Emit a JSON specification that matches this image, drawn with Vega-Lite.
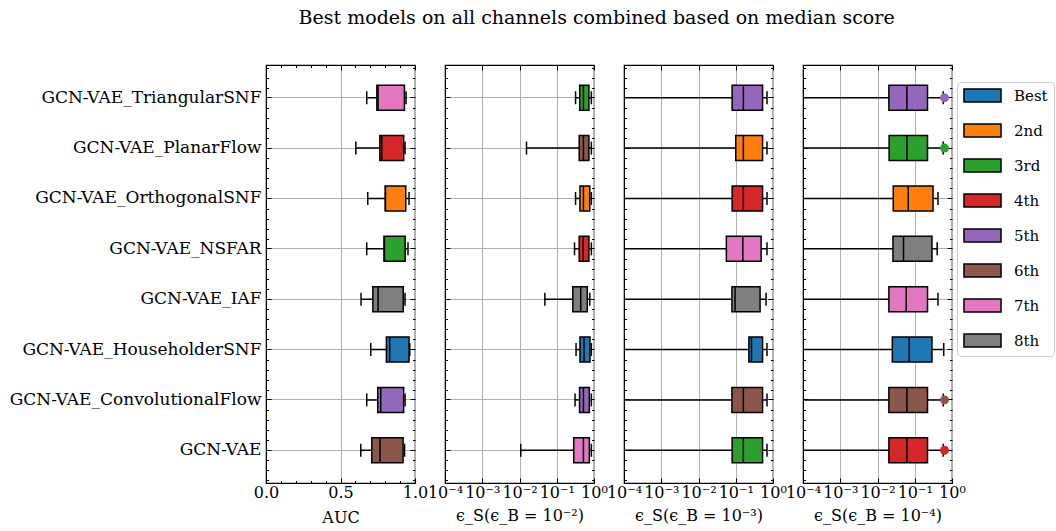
{
  "$schema": "https://vega.github.io/schema/vega-lite/v6.json",
  "background": "white",
  "padding": {"left": 8, "top": 8, "right": 3, "bottom": 5},
  "bounds": "flush",
  "spacing": 30,
  "title": {"text": "Best models on all channels combined based on median score", "fontSize": 19, "font": "DejaVu Serif", "fontWeight": "normal", "anchor": "middle", "offset": 36, "color": "black", "dx": 65},
  "data": {"values": [
    {"metric": "AUC", "model": "GCN-VAE_TriangularSNF", "rank": "7th", "low": 0.676, "q1": 0.744, "median": 0.752, "q3": 0.929, "high": 0.94},
    {"metric": "AUC", "model": "GCN-VAE_PlanarFlow", "rank": "4th", "low": 0.603, "q1": 0.764, "median": 0.777, "q3": 0.924, "high": 0.933},
    {"metric": "AUC", "model": "GCN-VAE_OrthogonalSNF", "rank": "2nd", "low": 0.683, "q1": 0.8, "median": 0.802, "q3": 0.938, "high": 0.96},
    {"metric": "AUC", "model": "GCN-VAE_NSFAR", "rank": "3rd", "low": 0.676, "q1": 0.792, "median": 0.795, "q3": 0.934, "high": 0.953},
    {"metric": "AUC", "model": "GCN-VAE_IAF", "rank": "8th", "low": 0.638, "q1": 0.717, "median": 0.752, "q3": 0.921, "high": 0.933},
    {"metric": "AUC", "model": "GCN-VAE_HouseholderSNF", "rank": "Best", "low": 0.703, "q1": 0.808, "median": 0.83, "q3": 0.96, "high": 0.965},
    {"metric": "AUC", "model": "GCN-VAE_ConvolutionalFlow", "rank": "5th", "low": 0.676, "q1": 0.75, "median": 0.77, "q3": 0.924, "high": 0.933},
    {"metric": "AUC", "model": "GCN-VAE", "rank": "6th", "low": 0.636, "q1": 0.71, "median": 0.765, "q3": 0.92, "high": 0.93},
    {"metric": "e2", "model": "GCN-VAE_TriangularSNF", "rank": "3rd", "low": 0.32, "q1": 0.414, "median": 0.52, "q3": 0.73, "high": 0.85},
    {"metric": "e2", "model": "GCN-VAE_PlanarFlow", "rank": "6th", "low": 0.0154, "q1": 0.4, "median": 0.52, "q3": 0.73, "high": 0.85},
    {"metric": "e2", "model": "GCN-VAE_OrthogonalSNF", "rank": "2nd", "low": 0.32, "q1": 0.42, "median": 0.52, "q3": 0.77, "high": 0.85},
    {"metric": "e2", "model": "GCN-VAE_NSFAR", "rank": "4th", "low": 0.3, "q1": 0.4, "median": 0.51, "q3": 0.73, "high": 0.85},
    {"metric": "e2", "model": "GCN-VAE_IAF", "rank": "8th", "low": 0.048, "q1": 0.27, "median": 0.44, "q3": 0.66, "high": 0.77},
    {"metric": "e2", "model": "GCN-VAE_HouseholderSNF", "rank": "Best", "low": 0.33, "q1": 0.42, "median": 0.54, "q3": 0.78, "high": 0.85},
    {"metric": "e2", "model": "GCN-VAE_ConvolutionalFlow", "rank": "5th", "low": 0.31, "q1": 0.41, "median": 0.52, "q3": 0.75, "high": 0.85},
    {"metric": "e2", "model": "GCN-VAE", "rank": "7th", "low": 0.0108, "q1": 0.286, "median": 0.52, "q3": 0.75, "high": 0.85},
    {"metric": "e3", "model": "GCN-VAE_TriangularSNF", "rank": "5th", "low": 0.00005, "q1": 0.08, "median": 0.16, "q3": 0.525, "high": 0.69},
    {"metric": "e3", "model": "GCN-VAE_PlanarFlow", "rank": "2nd", "low": 0.00005, "q1": 0.1, "median": 0.16, "q3": 0.525, "high": 0.69},
    {"metric": "e3", "model": "GCN-VAE_OrthogonalSNF", "rank": "4th", "low": 0.00005, "q1": 0.08, "median": 0.16, "q3": 0.525, "high": 0.69},
    {"metric": "e3", "model": "GCN-VAE_NSFAR", "rank": "7th", "low": 0.00005, "q1": 0.056, "median": 0.155, "q3": 0.48, "high": 0.69},
    {"metric": "e3", "model": "GCN-VAE_IAF", "rank": "8th", "low": 0.00005, "q1": 0.079, "median": 0.096, "q3": 0.45, "high": 0.65},
    {"metric": "e3", "model": "GCN-VAE_HouseholderSNF", "rank": "Best", "low": 0.00005, "q1": 0.225, "median": 0.265, "q3": 0.525, "high": 0.69},
    {"metric": "e3", "model": "GCN-VAE_ConvolutionalFlow", "rank": "6th", "low": 0.00005, "q1": 0.079, "median": 0.16, "q3": 0.525, "high": 0.69},
    {"metric": "e3", "model": "GCN-VAE", "rank": "3rd", "low": 0.00005, "q1": 0.08, "median": 0.16, "q3": 0.525, "high": 0.69},
    {"metric": "e4", "model": "GCN-VAE_TriangularSNF", "rank": "5th", "low": 0.00005, "q1": 0.0202, "median": 0.0615, "q3": 0.22, "high": 0.58, "out": 0.63},
    {"metric": "e4", "model": "GCN-VAE_PlanarFlow", "rank": "3rd", "low": 0.00005, "q1": 0.0205, "median": 0.0615, "q3": 0.22, "high": 0.58, "out": 0.63},
    {"metric": "e4", "model": "GCN-VAE_OrthogonalSNF", "rank": "2nd", "low": 0.00005, "q1": 0.0265, "median": 0.067, "q3": 0.31, "high": 0.42},
    {"metric": "e4", "model": "GCN-VAE_NSFAR", "rank": "8th", "low": 0.00005, "q1": 0.026, "median": 0.05, "q3": 0.29, "high": 0.4},
    {"metric": "e4", "model": "GCN-VAE_IAF", "rank": "7th", "low": 0.00005, "q1": 0.0202, "median": 0.059, "q3": 0.22, "high": 0.42},
    {"metric": "e4", "model": "GCN-VAE_HouseholderSNF", "rank": "Best", "low": 0.00005, "q1": 0.025, "median": 0.071, "q3": 0.29, "high": 0.6},
    {"metric": "e4", "model": "GCN-VAE_ConvolutionalFlow", "rank": "6th", "low": 0.00005, "q1": 0.0202, "median": 0.0615, "q3": 0.22, "high": 0.58, "out": 0.63},
    {"metric": "e4", "model": "GCN-VAE", "rank": "4th", "low": 0.00005, "q1": 0.0202, "median": 0.0615, "q3": 0.22, "high": 0.58, "out": 0.63}
  ]},
  "hconcat": [
    {
      "width": 149, "height": 418,
      "transform": [{"filter": "datum.metric == 'AUC'"}],
      "resolve": {"scale": {"y": "independent"}, "axis": {"x": "independent", "y": "independent"}},
      "layer": [
        {
          "resolve": {"axis": {"x": "independent", "y": "independent"}},
          "layer": [
            {"mark": {"type": "rule", "color": "black", "strokeWidth": 1.5, "clip": true},
             "encoding": {
               "x": {"field": "low", "type": "quantitative", "scale": {"type": "linear", "domain": [0, 1], "nice": false, "zero": false},
                     "axis": {"title": "AUC", "values": [0, 0.1, 0.2, 0.3, 0.4, 0.5, 0.6, 0.7, 0.8, 0.9, 1.0], "labelExpr": "abs(datum.value*2-round(datum.value*2))<0.001 ? format(datum.value,'.1f') : ''", "tickSize": {"condition": {"test": "abs(datum.value*2-round(datum.value*2))<0.001", "value": -5}, "value": -2.5}, "grid": true, "gridOpacity": {"condition": {"test": "abs(datum.value*2-round(datum.value*2))<0.001", "value": 1}, "value": 0}, "labelPadding": 6, "titlePadding": 7}},
               "x2": {"field": "high"},
               "y": {"field": "model", "type": "nominal", "scale": {"domain": ["GCN-VAE_TriangularSNF", "GCN-VAE_PlanarFlow", "GCN-VAE_OrthogonalSNF", "GCN-VAE_NSFAR", "GCN-VAE_IAF", "GCN-VAE_HouseholderSNF", "GCN-VAE_ConvolutionalFlow", "GCN-VAE"], "paddingOuter": 0.15, "paddingInner": 0},
                     "axis": {"title": null, "labels": true, "tickSize": -5, "grid": true, "labelPadding": 10, "labelFontSize": 17, "labelLimit": 400}}
             }},
            {"mark": {"type": "tick", "color": "black", "size": 13, "thickness": 1.5, "opacity": 1, "clip": true},
             "encoding": {"x": {"field": "low", "type": "quantitative", "axis": null}, "y": {"field": "model", "type": "nominal", "axis": null}}},
            {"mark": {"type": "tick", "color": "black", "size": 13, "thickness": 1.5, "opacity": 1, "clip": true},
             "encoding": {"x": {"field": "high", "type": "quantitative", "axis": null}, "y": {"field": "model", "type": "nominal", "axis": null}}},
            {"mark": {"type": "bar", "size": 25, "stroke": "black", "strokeWidth": 1.5, "opacity": 1},
             "encoding": {
               "x": {"field": "q1", "type": "quantitative", "axis": {"orient": "top", "title": null, "labels": false, "domain": false, "grid": false, "values": [0, 0.1, 0.2, 0.3, 0.4, 0.5, 0.6, 0.7, 0.8, 0.9, 1.0], "tickSize": {"condition": {"test": "abs(datum.value*2-round(datum.value*2))<0.001", "value": -5}, "value": -2.5}}},
               "x2": {"field": "q3"},
               "y": {"field": "model", "type": "nominal", "axis": {"orient": "right", "title": null, "labels": false, "domain": false, "grid": false, "tickSize": -5}},
               "color": {"field": "rank", "type": "nominal", "scale": {"domain": ["Best", "2nd", "3rd", "4th", "5th", "6th", "7th", "8th"], "range": ["#1f77b4", "#ff7f0e", "#2ca02c", "#d62728", "#9467bd", "#8c564b", "#e377c2", "#7f7f7f"]}, "legend": {"title": null}}
             }},
            {"mark": {"type": "tick", "color": "black", "size": 25, "thickness": 1.5, "opacity": 1},
             "encoding": {"x": {"field": "median", "type": "quantitative", "axis": null}, "y": {"field": "model", "type": "nominal", "axis": null}}}
          ]
        },
        {
          "resolve": {"axis": {"y": "independent"}},
          "layer": [
            {"mark": {"type": "point", "opacity": 0, "size": 1},
             "encoding": {"x": {"field": "median", "type": "quantitative", "axis": null},
               "y": {"datum": 0, "type": "quantitative", "scale": {"domain": [-0.65, 7.65], "reverse": true, "nice": false, "zero": false},
                     "axis": {"orient": "left", "title": null, "labels": false, "domain": false, "grid": false, "tickSize": -2.5, "values": [-0.6, -0.4, -0.2, 0.2, 0.4, 0.6, 0.8, 1.2, 1.4, 1.6, 1.8, 2.2, 2.4, 2.6, 2.8, 3.2, 3.4, 3.6, 3.8, 4.2, 4.4, 4.6, 4.8, 5.2, 5.4, 5.6, 5.8, 6.2, 6.4, 6.6, 6.8, 7.2, 7.4, 7.6]}}}},
            {"mark": {"type": "point", "opacity": 0, "size": 1},
             "encoding": {"x": {"field": "median", "type": "quantitative", "axis": null},
               "y": {"datum": 0, "type": "quantitative",
                     "axis": {"orient": "right", "title": null, "labels": false, "domain": false, "grid": false, "tickSize": -2.5, "values": [-0.6, -0.4, -0.2, 0.2, 0.4, 0.6, 0.8, 1.2, 1.4, 1.6, 1.8, 2.2, 2.4, 2.6, 2.8, 3.2, 3.4, 3.6, 3.8, 4.2, 4.4, 4.6, 4.8, 5.2, 5.4, 5.6, 5.8, 6.2, 6.4, 6.6, 6.8, 7.2, 7.4, 7.6]}}}}
          ]
        }
      ]
    },
    {
      "width": 149, "height": 418,
      "transform": [{"filter": "datum.metric == 'e2'"}],
      "resolve": {"scale": {"y": "independent"}, "axis": {"x": "independent", "y": "independent"}},
      "layer": [
        {
          "resolve": {"axis": {"x": "independent", "y": "independent"}},
          "layer": [
            {"mark": {"type": "rule", "color": "black", "strokeWidth": 1.5, "clip": true},
             "encoding": {
               "x": {"field": "low", "type": "quantitative", "scale": {"type": "log", "domain": [0.0001, 1], "nice": false},
                     "axis": {"title": "ϵ_S(ϵ_B = 10⁻²)", "values": [0.0001, 0.001, 0.01, 0.1, 1], "labelExpr": "datum.value < 0.0005 ? '10⁻⁴' : datum.value < 0.005 ? '10⁻³' : datum.value < 0.05 ? '10⁻²' : datum.value < 0.5 ? '10⁻¹' : '10⁰'", "tickSize": -5, "grid": true, "labelPadding": 6, "titlePadding": 7}},
               "x2": {"field": "high"},
               "y": {"field": "model", "type": "nominal", "scale": {"domain": ["GCN-VAE_TriangularSNF", "GCN-VAE_PlanarFlow", "GCN-VAE_OrthogonalSNF", "GCN-VAE_NSFAR", "GCN-VAE_IAF", "GCN-VAE_HouseholderSNF", "GCN-VAE_ConvolutionalFlow", "GCN-VAE"], "paddingOuter": 0.15, "paddingInner": 0},
                     "axis": {"title": null, "labels": false, "tickSize": -5, "grid": true}}
             }},
            {"mark": {"type": "tick", "color": "black", "size": 13, "thickness": 1.5, "opacity": 1, "clip": true},
             "encoding": {"x": {"field": "low", "type": "quantitative", "axis": null}, "y": {"field": "model", "type": "nominal", "axis": null}}},
            {"mark": {"type": "tick", "color": "black", "size": 13, "thickness": 1.5, "opacity": 1, "clip": true},
             "encoding": {"x": {"field": "high", "type": "quantitative", "axis": null}, "y": {"field": "model", "type": "nominal", "axis": null}}},
            {"mark": {"type": "bar", "size": 25, "stroke": "black", "strokeWidth": 1.5, "opacity": 1},
             "encoding": {
               "x": {"field": "q1", "type": "quantitative", "axis": {"orient": "top", "title": null, "labels": false, "domain": false, "grid": false, "values": [0.0001, 0.001, 0.01, 0.1, 1], "tickSize": -5}},
               "x2": {"field": "q3"},
               "y": {"field": "model", "type": "nominal", "axis": {"orient": "right", "title": null, "labels": false, "domain": false, "grid": false, "tickSize": -5}},
               "color": {"field": "rank", "type": "nominal", "scale": {"domain": ["Best", "2nd", "3rd", "4th", "5th", "6th", "7th", "8th"], "range": ["#1f77b4", "#ff7f0e", "#2ca02c", "#d62728", "#9467bd", "#8c564b", "#e377c2", "#7f7f7f"]}, "legend": {"title": null}}
             }},
            {"mark": {"type": "tick", "color": "black", "size": 25, "thickness": 1.5, "opacity": 1},
             "encoding": {"x": {"field": "median", "type": "quantitative", "axis": null}, "y": {"field": "model", "type": "nominal", "axis": null}}}
          ]
        },
        {
          "resolve": {"axis": {"y": "independent"}},
          "layer": [
            {"mark": {"type": "point", "opacity": 0, "size": 1},
             "encoding": {"x": {"field": "median", "type": "quantitative", "axis": null},
               "y": {"datum": 0, "type": "quantitative", "scale": {"domain": [-0.65, 7.65], "reverse": true, "nice": false, "zero": false},
                     "axis": {"orient": "left", "title": null, "labels": false, "domain": false, "grid": false, "tickSize": -2.5, "values": [-0.6, -0.4, -0.2, 0.2, 0.4, 0.6, 0.8, 1.2, 1.4, 1.6, 1.8, 2.2, 2.4, 2.6, 2.8, 3.2, 3.4, 3.6, 3.8, 4.2, 4.4, 4.6, 4.8, 5.2, 5.4, 5.6, 5.8, 6.2, 6.4, 6.6, 6.8, 7.2, 7.4, 7.6]}}}},
            {"mark": {"type": "point", "opacity": 0, "size": 1},
             "encoding": {"x": {"field": "median", "type": "quantitative", "axis": null},
               "y": {"datum": 0, "type": "quantitative",
                     "axis": {"orient": "right", "title": null, "labels": false, "domain": false, "grid": false, "tickSize": -2.5, "values": [-0.6, -0.4, -0.2, 0.2, 0.4, 0.6, 0.8, 1.2, 1.4, 1.6, 1.8, 2.2, 2.4, 2.6, 2.8, 3.2, 3.4, 3.6, 3.8, 4.2, 4.4, 4.6, 4.8, 5.2, 5.4, 5.6, 5.8, 6.2, 6.4, 6.6, 6.8, 7.2, 7.4, 7.6]}}}}
          ]
        }
      ]
    },
    {
      "width": 149, "height": 418,
      "transform": [{"filter": "datum.metric == 'e3'"}],
      "resolve": {"scale": {"y": "independent"}, "axis": {"x": "independent", "y": "independent"}},
      "layer": [
        {
          "resolve": {"axis": {"x": "independent", "y": "independent"}},
          "layer": [
            {"mark": {"type": "rule", "color": "black", "strokeWidth": 1.5, "clip": true},
             "encoding": {
               "x": {"field": "low", "type": "quantitative", "scale": {"type": "log", "domain": [0.0001, 1], "nice": false},
                     "axis": {"title": "ϵ_S(ϵ_B = 10⁻³)", "values": [0.0001, 0.001, 0.01, 0.1, 1], "labelExpr": "datum.value < 0.0005 ? '10⁻⁴' : datum.value < 0.005 ? '10⁻³' : datum.value < 0.05 ? '10⁻²' : datum.value < 0.5 ? '10⁻¹' : '10⁰'", "tickSize": -5, "grid": true, "labelPadding": 6, "titlePadding": 7}},
               "x2": {"field": "high"},
               "y": {"field": "model", "type": "nominal", "scale": {"domain": ["GCN-VAE_TriangularSNF", "GCN-VAE_PlanarFlow", "GCN-VAE_OrthogonalSNF", "GCN-VAE_NSFAR", "GCN-VAE_IAF", "GCN-VAE_HouseholderSNF", "GCN-VAE_ConvolutionalFlow", "GCN-VAE"], "paddingOuter": 0.15, "paddingInner": 0},
                     "axis": {"title": null, "labels": false, "tickSize": -5, "grid": true}}
             }},
            {"mark": {"type": "tick", "color": "black", "size": 13, "thickness": 1.5, "opacity": 1, "clip": true},
             "encoding": {"x": {"field": "low", "type": "quantitative", "axis": null}, "y": {"field": "model", "type": "nominal", "axis": null}}},
            {"mark": {"type": "tick", "color": "black", "size": 13, "thickness": 1.5, "opacity": 1, "clip": true},
             "encoding": {"x": {"field": "high", "type": "quantitative", "axis": null}, "y": {"field": "model", "type": "nominal", "axis": null}}},
            {"mark": {"type": "bar", "size": 25, "stroke": "black", "strokeWidth": 1.5, "opacity": 1},
             "encoding": {
               "x": {"field": "q1", "type": "quantitative", "axis": {"orient": "top", "title": null, "labels": false, "domain": false, "grid": false, "values": [0.0001, 0.001, 0.01, 0.1, 1], "tickSize": -5}},
               "x2": {"field": "q3"},
               "y": {"field": "model", "type": "nominal", "axis": {"orient": "right", "title": null, "labels": false, "domain": false, "grid": false, "tickSize": -5}},
               "color": {"field": "rank", "type": "nominal", "scale": {"domain": ["Best", "2nd", "3rd", "4th", "5th", "6th", "7th", "8th"], "range": ["#1f77b4", "#ff7f0e", "#2ca02c", "#d62728", "#9467bd", "#8c564b", "#e377c2", "#7f7f7f"]}, "legend": {"title": null}}
             }},
            {"mark": {"type": "tick", "color": "black", "size": 25, "thickness": 1.5, "opacity": 1},
             "encoding": {"x": {"field": "median", "type": "quantitative", "axis": null}, "y": {"field": "model", "type": "nominal", "axis": null}}}
          ]
        },
        {
          "resolve": {"axis": {"y": "independent"}},
          "layer": [
            {"mark": {"type": "point", "opacity": 0, "size": 1},
             "encoding": {"x": {"field": "median", "type": "quantitative", "axis": null},
               "y": {"datum": 0, "type": "quantitative", "scale": {"domain": [-0.65, 7.65], "reverse": true, "nice": false, "zero": false},
                     "axis": {"orient": "left", "title": null, "labels": false, "domain": false, "grid": false, "tickSize": -2.5, "values": [-0.6, -0.4, -0.2, 0.2, 0.4, 0.6, 0.8, 1.2, 1.4, 1.6, 1.8, 2.2, 2.4, 2.6, 2.8, 3.2, 3.4, 3.6, 3.8, 4.2, 4.4, 4.6, 4.8, 5.2, 5.4, 5.6, 5.8, 6.2, 6.4, 6.6, 6.8, 7.2, 7.4, 7.6]}}}},
            {"mark": {"type": "point", "opacity": 0, "size": 1},
             "encoding": {"x": {"field": "median", "type": "quantitative", "axis": null},
               "y": {"datum": 0, "type": "quantitative",
                     "axis": {"orient": "right", "title": null, "labels": false, "domain": false, "grid": false, "tickSize": -2.5, "values": [-0.6, -0.4, -0.2, 0.2, 0.4, 0.6, 0.8, 1.2, 1.4, 1.6, 1.8, 2.2, 2.4, 2.6, 2.8, 3.2, 3.4, 3.6, 3.8, 4.2, 4.4, 4.6, 4.8, 5.2, 5.4, 5.6, 5.8, 6.2, 6.4, 6.6, 6.8, 7.2, 7.4, 7.6]}}}}
          ]
        }
      ]
    },
    {
      "width": 149, "height": 418,
      "transform": [{"filter": "datum.metric == 'e4'"}],
      "resolve": {"scale": {"y": "independent"}, "axis": {"x": "independent", "y": "independent"}},
      "layer": [
        {
          "resolve": {"axis": {"x": "independent", "y": "independent"}},
          "layer": [
            {"mark": {"type": "rule", "color": "black", "strokeWidth": 1.5, "clip": true},
             "encoding": {
               "x": {"field": "low", "type": "quantitative", "scale": {"type": "log", "domain": [0.0001, 1], "nice": false},
                     "axis": {"title": "ϵ_S(ϵ_B = 10⁻⁴)", "values": [0.0001, 0.001, 0.01, 0.1, 1], "labelExpr": "datum.value < 0.0005 ? '10⁻⁴' : datum.value < 0.005 ? '10⁻³' : datum.value < 0.05 ? '10⁻²' : datum.value < 0.5 ? '10⁻¹' : '10⁰'", "tickSize": -5, "grid": true, "labelPadding": 6, "titlePadding": 7}},
               "x2": {"field": "high"},
               "y": {"field": "model", "type": "nominal", "scale": {"domain": ["GCN-VAE_TriangularSNF", "GCN-VAE_PlanarFlow", "GCN-VAE_OrthogonalSNF", "GCN-VAE_NSFAR", "GCN-VAE_IAF", "GCN-VAE_HouseholderSNF", "GCN-VAE_ConvolutionalFlow", "GCN-VAE"], "paddingOuter": 0.15, "paddingInner": 0},
                     "axis": {"title": null, "labels": false, "tickSize": -5, "grid": true}}
             }},
            {"mark": {"type": "tick", "color": "black", "size": 13, "thickness": 1.5, "opacity": 1, "clip": true},
             "encoding": {"x": {"field": "low", "type": "quantitative", "axis": null}, "y": {"field": "model", "type": "nominal", "axis": null}}},
            {"mark": {"type": "tick", "color": "black", "size": 13, "thickness": 1.5, "opacity": 1, "clip": true},
             "encoding": {"x": {"field": "high", "type": "quantitative", "axis": null}, "y": {"field": "model", "type": "nominal", "axis": null}}},
            {"mark": {"type": "bar", "size": 25, "stroke": "black", "strokeWidth": 1.5, "opacity": 1},
             "encoding": {
               "x": {"field": "q1", "type": "quantitative", "axis": {"orient": "top", "title": null, "labels": false, "domain": false, "grid": false, "values": [0.0001, 0.001, 0.01, 0.1, 1], "tickSize": -5}},
               "x2": {"field": "q3"},
               "y": {"field": "model", "type": "nominal", "axis": {"orient": "right", "title": null, "labels": false, "domain": false, "grid": false, "tickSize": -5}},
               "color": {"field": "rank", "type": "nominal", "scale": {"domain": ["Best", "2nd", "3rd", "4th", "5th", "6th", "7th", "8th"], "range": ["#1f77b4", "#ff7f0e", "#2ca02c", "#d62728", "#9467bd", "#8c564b", "#e377c2", "#7f7f7f"]}, "legend": {"title": null}}
             }},
            {"mark": {"type": "tick", "color": "black", "size": 25, "thickness": 1.5, "opacity": 1},
             "encoding": {"x": {"field": "median", "type": "quantitative", "axis": null}, "y": {"field": "model", "type": "nominal", "axis": null}}},
            {"transform": [{"filter": "isValid(datum.out)"}],
             "mark": {"type": "point", "shape": "circle", "filled": true, "size": 80, "opacity": 1, "strokeWidth": 0},
             "encoding": {
               "x": {"field": "out", "type": "quantitative", "axis": null},
               "y": {"field": "model", "type": "nominal", "axis": null},
               "fill": {"field": "rank", "type": "nominal", "scale": {"domain": ["Best", "2nd", "3rd", "4th", "5th", "6th", "7th", "8th"], "range": ["#1f77b4", "#ff7f0e", "#2ca02c", "#d62728", "#9467bd", "#8c564b", "#e377c2", "#7f7f7f"]}, "legend": null}
             }}
          ]
        },
        {
          "resolve": {"axis": {"y": "independent"}},
          "layer": [
            {"mark": {"type": "point", "opacity": 0, "size": 1},
             "encoding": {"x": {"field": "median", "type": "quantitative", "axis": null},
               "y": {"datum": 0, "type": "quantitative", "scale": {"domain": [-0.65, 7.65], "reverse": true, "nice": false, "zero": false},
                     "axis": {"orient": "left", "title": null, "labels": false, "domain": false, "grid": false, "tickSize": -2.5, "values": [-0.6, -0.4, -0.2, 0.2, 0.4, 0.6, 0.8, 1.2, 1.4, 1.6, 1.8, 2.2, 2.4, 2.6, 2.8, 3.2, 3.4, 3.6, 3.8, 4.2, 4.4, 4.6, 4.8, 5.2, 5.4, 5.6, 5.8, 6.2, 6.4, 6.6, 6.8, 7.2, 7.4, 7.6]}}}},
            {"mark": {"type": "point", "opacity": 0, "size": 1},
             "encoding": {"x": {"field": "median", "type": "quantitative", "axis": null},
               "y": {"datum": 0, "type": "quantitative",
                     "axis": {"orient": "right", "title": null, "labels": false, "domain": false, "grid": false, "tickSize": -2.5, "values": [-0.6, -0.4, -0.2, 0.2, 0.4, 0.6, 0.8, 1.2, 1.4, 1.6, 1.8, 2.2, 2.4, 2.6, 2.8, 3.2, 3.4, 3.6, 3.8, 4.2, 4.4, 4.6, 4.8, 5.2, 5.4, 5.6, 5.8, 6.2, 6.4, 6.6, 6.8, 7.2, 7.4, 7.6]}}}}
          ]
        }
      ]
    }
  ],
  "config": {
    "font": "DejaVu Serif",
    "view": {"stroke": "black", "strokeWidth": 1.2},
    "axis": {"labelFont": "DejaVu Serif", "titleFont": "DejaVu Serif", "labelFontSize": 16, "titleFontSize": 16, "titleFontWeight": "normal", "labelColor": "black", "titleColor": "black", "domainColor": "black", "tickColor": "black", "tickWidth": 1, "gridColor": "#b0b0b0", "gridWidth": 1, "labelOverlap": false, "labelFlush": false, "labelBound": false},
    "legend": {"orient": "none", "legendX": 691, "legendY": 17, "labelFont": "DejaVu Serif", "labelFontSize": 15, "labelColor": "black", "symbolType": "M-2.85,-1H2.85V1H-2.85Z", "symbolSize": 169, "symbolOffset": 12, "symbolStrokeColor": "black", "symbolStrokeWidth": 1.5, "symbolOpacity": 1, "rowPadding": 16, "labelOffset": 24, "strokeColor": "#cccccc", "cornerRadius": 4, "padding": 6, "fillColor": "white"}
  }
}
